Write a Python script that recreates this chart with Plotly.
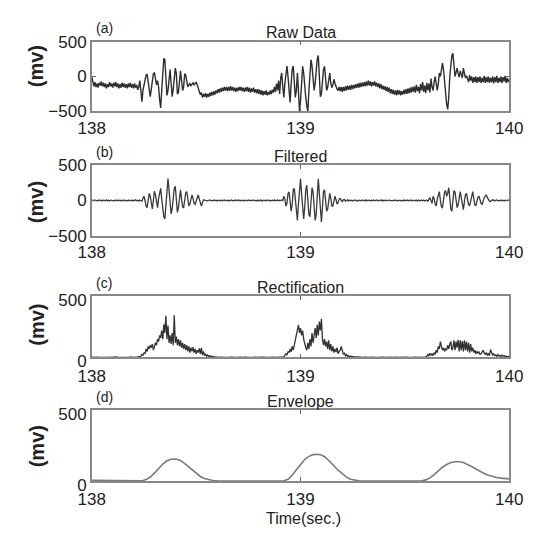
import numpy as np
import plotly.graph_objects as go

W, H = 547, 540
T_START, T_END = 138, 140

# samples, 5 ms apart for a-c and 20 ms apart for d
raw = [
    0, -90, -140, -80, -150, -100, -160, -90, -130, -70,
    -140, -90, -150, -100, -170, -110, -150, -80, -140, -100,
    -160, -90, -140, -80, -150, -100, -170, -110, -160, -90,
    -150, -100, -160, -110, -170, -100, -150, -90, -160, -110,
    -170, -100, -160, -120, -190, -150, -60, -200, -360, -200,
    -120, -40, 20, 30, -100, -220, -290, -180, -20, 40,
    50, -40, -120, -60, -150, -330, -450, -200, 100, 260,
    240, 0, -270, -200, 20, 100, -100, -290, -180, 20,
    120, 40, -250, -230, 0, 80, -60, -200, -150, 40,
    20, -60, -150, -120, -100, -130, -100, -90, -120, -100,
    -80, -120, -160, -220, -260, -230, -300, -250, -290, -240,
    -300, -250, -290, -230, -280, -220, -270, -210, -260, -200,
    -240, -180, -230, -170, -220, -160, -210, -150, -200, -150,
    -210, -150, -200, -140, -200, -150, -210, -160, -220, -160,
    -210, -150, -200, -150, -210, -160, -220, -160, -210, -150,
    -220, -160, -230, -170, -220, -160, -230, -180, -240, -180,
    -250, -190, -260, -200, -270, -210, -260, -200, -270, -220,
    -260, -200, -250, -190, -230, -150, -220, -100, -200, -60,
    -250, -20, 50, -150, -300, -100, 80, 150, 0, -250,
    -370, -100, 100, 150, -50, -300, -200, 50, -200, -495,
    -350, 0, 145, 50, -200, -300, -420, -495, -200, 100,
    240, 150, 0, -200, -100, 100, 250, 300, 0, -290,
    -250, 0, 100, 145, 0, -200, -150, -50, 50, -100,
    -160, -120, -40, -100, -150, -180, -200, -150, -210, -150,
    -220, -150, -210, -140, -200, -130, -190, -130, -190, -120,
    -180, -120, -170, -110, -160, -100, -160, -90, -150, -90,
    -140, -80, -140, -70, -130, -60, -130, -70, -140, -80,
    -130, -70, -140, -90, -150, -100, -170, -110, -180, -130,
    -190, -140, -210, -150, -220, -160, -240, -180, -250, -190,
    -260, -200, -270, -190, -260, -200, -270, -210, -260, -190,
    -250, -180, -250, -170, -240, -160, -230, -150, -220, -140,
    -230, -120, -210, -150, -240, -110, -200, -80, -220, -130,
    -240, -90, -200, -100, -230, -30, -150, -200, -80, 0,
    -100, -200, -100, 50, 0, 100, 190, 100, -100, -250,
    -400, -470, -300, 0, 200, 300, 330, 200, 0, 60,
    120, 40, -10, 80, 20, -20, 120, 30, -20, 10,
    -40, -80, 20, -60, 0, -90, -10, -80, 0, -90,
    -10, -80, 0, -90, -20, -80, 10, -90, -10, -80,
    0, -90, -20, -80, 0, -100, -10, -80, 10, -90,
    -20, -80, 0, -90, -10, -70, 10, -90, -20, -80,
    -40,
]

filtered = [
    0, 4, -3, 6, -5, 2, -4, 7, -2, 3,
    -6, 5, 0, -4, 8, -3, 2, -7, 4, -1,
    5, -6, 3, -2, 6, -5, 1, 4, -8, 3,
    -2, 6, -4, 2, -5, 7, -3, 0, 5, -6,
    3, -2, 8, -4, 2, -6, 5, -3, -10, 30,
    60, 0, -80, -100, -20, 100, 60, -80, -120, 0,
    130, 80, -60, -100, 30, 120, 170, 20, -150, -230,
    -260, -50, 200, 310, 150, -100, -190, -120, 50, 170,
    200, 30, -168, -100, 80, 150, 20, -90, -100, 0,
    110, 125, 0, -77, -50, 40, 80, 30, -40, -54,
    0, 60, 80, 20, -50, -77, -30, 10, 5, 0,
    4, -6, 3, 7, -4, 2, -5, 6, -2, 3,
    -7, 4, 1, -3, 6, -5, 2, 8, -4, 0,
    5, -6, 3, -2, 7, -4, 1, -5, 6, -3,
    2, 8, -6, 3, -1, 5, -7, 4, 0, -3,
    6, -2, 4, -5, 3, 7, -4, 1, -6, 5,
    -3, 2, 6, -8, 4, -1, 3, -5, 7, -2,
    4, -6, 2, 5, -3, 8, -4, 0, 6, -5,
    3, -2, 7, 0, 60, 20, -80, -40, 100, 120,
    -50, -150, -60, 150, 170, 0, -200, -280, -50, 200,
    305, 100, -150, -260, -100, 150, 216, 50, -200, -230,
    0, 180, 120, -100, -280, -200, 100, 305, 100, -200,
    -303, -100, 130, 150, 0, -150, -120, 50, 100, 30,
    -80, -80, 30, 60, 10, -50, -30, 20, 30, -10,
    -20, 10, 15, -10, 0, 8, -5, 6, -3, 4,
    -6, 2, 7, -4, 3, -8, 5, 0, -3, 6,
    -2, 4, -6, 8, -3, 1, 5, -7, 3, -2,
    6, -4, 2, 7, -5, 0, 4, -3, 8, -6,
    3, -1, 5, -4, 2, 7, -6, 3, 0, -5,
    6, -2, 4, -7, 3, 5, -3, 1, -6, 8,
    -4, 2, 6, -5, 3, -2, 7, -4, 0, 5,
    -3, 6, -8, 4, 2, -5, 7, -3, 4, -6,
    0, 5, -10, 20, 40, 0, -40, 58, 30, -50,
    -77, 20, 100, 126, 0, -90, -100, 0, 120, 140,
    60, 100, 180, 40, -120, -150, 0, 140, 120, -20,
    -100, -60, 60, 126, 40, -80, -130, -20, 80, 100,
    20, -60, -77, 0, 100, 126, 30, -60, -77, 0,
    50, 58, 0, -40, -55, 0, 40, 60, 80, 40,
    0, -10, -15, 0, 10, 4, -6, 3, 7, -4,
    2, -5, 6, -3, 4, -7, 5, 0, -4, 6,
    0,
]

rectified = [
    2, 0, 3, 1, 0, 2, 4, 1, 0, 3,
    1, 0, 2, 3, 0, 1, 4, 2, 0, 1,
    3, 0, 2, 1, 4, 0, 2, 3, 1, 0,
    2, 4, 1, 0, 3, 1, 2, 0, 4, 2,
    1, 0, 3, 2, 5, 3, 6, 10, 25, 15,
    40, 30, 70, 50, 90, 70, 100, 80, 110, 60,
    90, 120, 100, 150, 130, 180, 160, 220, 150, 270,
    200, 340, 150, 260, 120, 180, 110, 200, 100, 345,
    120, 170, 100, 150, 90, 140, 80, 120, 70, 110,
    60, 100, 50, 90, 40, 80, 50, 85, 40, 70,
    30, 60, 40, 75, 30, 78, 20, 50, 15, 30,
    10, 20, 8, 15, 5, 12, 3, 8, 2, 4,
    0, 2, 1, 3, 0, 2, 1, 0, 3, 1,
    2, 0, 1, 3, 0, 2, 1, 0, 2, 1,
    0, 3, 1, 2, 0, 1, 3, 0, 2, 1,
    0, 2, 1, 3, 0, 1, 2, 0, 3, 1,
    2, 0, 1, 3, 0, 2, 1, 0, 2, 3,
    1, 0, 2, 1, 3, 0, 2, 1, 0, 2,
    1, 3, 0, 2, 5, 15, 30, 20, 50, 40,
    70, 45, 90, 60, 100, 130, 180, 220, 267, 200,
    240, 180, 220, 150, 100, 80, 60, 120, 70, 150,
    90, 200, 120, 180, 240, 160, 267, 180, 293, 220,
    315, 150, 100, 150, 90, 130, 70, 140, 60, 110,
    50, 90, 40, 70, 45, 80, 30, 50, 60, 90,
    40, 25, 35, 15, 25, 10, 15, 5, 10, 8,
    12, 4, 8, 3, 6, 2, 5, 1, 3, 0,
    2, 1, 0, 3, 1, 2, 0, 1, 3, 0,
    2, 1, 0, 2, 3, 1, 0, 2, 1, 0,
    3, 1, 2, 0, 1, 2, 0, 3, 1, 0,
    2, 1, 0, 3, 2, 0, 1, 2, 0, 1,
    3, 0, 2, 1, 0, 2, 3, 1, 0, 2,
    1, 0, 3, 2, 0, 1, 2, 0, 1, 3,
    2, 10, 25, 15, 35, 20, 30, 15, 40, 25,
    60, 40, 90, 70, 130, 90, 60, 80, 50, 70,
    60, 100, 70, 110, 130, 60, 80, 140, 60, 130,
    80, 145, 50, 140, 60, 135, 50, 140, 60, 130,
    50, 120, 40, 110, 50, 80, 40, 60, 30, 50,
    35, 45, 25, 30, 45, 60, 35, 25, 40, 20,
    30, 15, 65, 30, 20, 30, 15, 20, 10, 25,
    12, 18, 8, 20, 10, 15, 5, 12, 5, 8,
    3,
]

envelope = [
    5, 5, 4, 3, 1, 0, 0, 0, 0, 0,
    0, 0, 2, 10, 28, 55, 88, 120, 143, 154,
    155, 148, 130, 105, 78, 52, 32, 18, 9, 4,
    1, 0, 0, 0, 0, 0, 0, 0, 0, 0,
    0, 0, 0, 0, 0, 0, 2, 12, 40, 80,
    120, 152, 174, 186, 189, 183, 166, 140, 108, 76,
    48, 27, 13, 5, 1, 0, 0, 0, 0, 0,
    0, 0, 0, 0, 0, 0, 0, 0, 0, 2,
    8, 22, 45, 72, 97, 117, 130, 136, 136, 130,
    118, 102, 85, 68, 53, 41, 32, 25, 20, 17,
    15,
]

titles = ['Raw Data', 'Filtered', 'Rectification', 'Envelope']
tags = ['(a)', '(b)', '(c)', '(d)']
x_ticks = [138, 139, 140]
y_ticks_signed = [-500, 0, 500]
y_ticks_pos = [0, 500]

# panel boxes, px from the top of the page
boxes = [(34, 107), (163, 237), (300, 364), (419, 493)]
X0, X1 = 82, 522
mv_y = [60, 202, 330, 457]

FONT = 'Arial, Liberation Sans, sans-serif'
series = [raw, filtered, rectified, envelope]
colors = ['#2e2e2e', '#3a3a3a', '#333333', '#7a7a7a']
widths = [1.4, 1.3, 1.3, 1.6]
ranges = [[-500, 500], [-500, 500], [0, 500], [0, 500]]
yticks = [y_ticks_signed, y_ticks_signed, y_ticks_pos, y_ticks_pos]
# in c and d the bottom "0" sits right on top of "138": pull them slightly apart
ylab_shift = [0, 0, 4, 4]
xlab_gap = [0, 0, 2, 2]

fig = go.Figure()
annotations = []
for i, vals in enumerate(series):
    n = i + 1
    t = np.linspace(T_START, T_END, len(vals))
    fig.add_trace(go.Scatter(x=t, y=vals, mode='lines', xaxis=f'x{n}', yaxis=f'y{n}',
                             line=dict(color=colors[i], width=widths[i]), hoverinfo='skip'))
    top, bot = boxes[i]
    axis_style = dict(showline=True, linecolor='#888888', linewidth=1.5, mirror='ticks',
                      ticks='inside', ticklen=4, tickcolor='#666666', showgrid=False, zeroline=False,
                      tickfont=dict(family=FONT, size=17, color='#222222'))
    fig.update_layout(**{
        f'xaxis{n}': dict(domain=[X0 / W, X1 / W], range=[T_START, T_END], tickvals=x_ticks,
                          anchor=f'y{n}', ticklabelstandoff=xlab_gap[i], **axis_style),
        f'yaxis{n}': dict(domain=[1 - bot / H, 1 - top / H], range=ranges[i], tickvals=yticks[i],
                          anchor=f'x{n}', ticklabelshift=ylab_shift[i], **axis_style),
    })
    annotations.append(dict(text=titles[i], x=(X0 + X1) / 2 / W, y=1 - (top - 9) / H,
                            xref='paper', yref='paper', showarrow=False, yanchor='middle',
                            font=dict(family=FONT, size=16, color='#222222')))
    annotations.append(dict(text=tags[i], x=84 / W, y=1 - (top - 14) / H, xref='paper', yref='paper',
                            showarrow=False, xanchor='left', yanchor='middle',
                            font=dict(family=FONT, size=14, color='#222222')))
    annotations.append(dict(text='<b>(mv)</b>', x=24 / W, y=1 - mv_y[i] / H, xref='paper', yref='paper',
                            showarrow=False, textangle=-90, xanchor='center', yanchor='middle',
                            font=dict(family=FONT, size=20, color='#222222')))

annotations.append(dict(text='Time(sec.)', x=305 / W, y=1 - 532 / H, xref='paper', yref='paper',
                        showarrow=False, yanchor='middle', font=dict(family=FONT, size=16, color='#222222')))

fig.update_layout(width=W, height=H, margin=dict(l=0, r=0, t=0, b=0), showlegend=False,
                  paper_bgcolor='white', plot_bgcolor='white', annotations=annotations)

# page body margin off so the figure sits at the window corner
fig.write_html("out.html", config={'displayModeBar': False},
               post_script="document.body.style.margin = '0px';")
